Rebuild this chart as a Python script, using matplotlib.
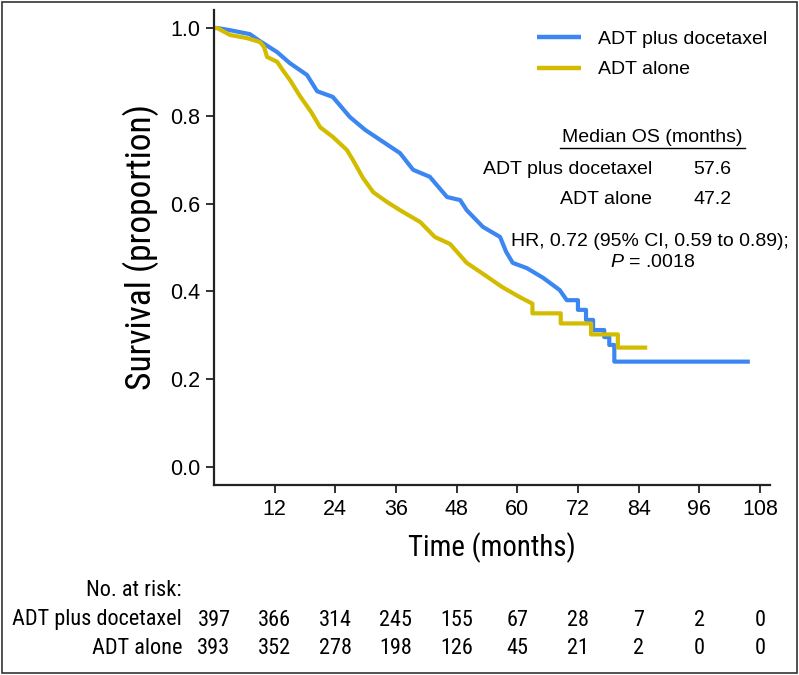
import numpy as np
import matplotlib.pyplot as plt
from matplotlib.patches import Rectangle
from matplotlib import font_manager as fm
import matplotlib.transforms as mtransforms

plt.rcParams['mathtext.fontset'] = 'custom'
plt.rcParams['mathtext.it'] = 'Liberation Sans:italic'
plt.rcParams['mathtext.rm'] = 'Liberation Sans'

# Kaplan-Meier curves (months, survival proportion)
months_doce = [0, 0.6, 3.2, 7.1, 9.1, 12.5, 15.0, 18.4, 20.4, 23.5, 26.9, 29.9, 33.8,
               36.8, 39.4, 42.7, 46.1, 48.7, 50.0, 53.2, 56.6, 57.8, 59.1, 61.9, 65.1,
               68.4, 69.8, 72.0, 72.0, 73.6, 73.6, 75.0, 75.0, 77.2, 77.2, 78.2, 78.2,
               79.2, 79.2, 105.6]
surv_doce = [1.0, 1.0, 0.995, 0.986, 0.970, 0.945, 0.920, 0.893, 0.856, 0.843, 0.797,
             0.768, 0.738, 0.715, 0.677, 0.661, 0.615, 0.608, 0.585, 0.547, 0.524, 0.490,
             0.465, 0.453, 0.431, 0.403, 0.380, 0.380, 0.358, 0.358, 0.335, 0.335, 0.312,
             0.312, 0.296, 0.296, 0.278, 0.278, 0.240, 0.240]

months_alone = [0, 0.6, 3.2, 6.5, 9.1, 9.9, 10.5, 12.5, 13.6, 15.0, 17.0, 19.2, 21.0,
                23.5, 26.3, 27.5, 29.5, 31.5, 34.2, 36.8, 40.8, 43.7, 46.7, 50.0, 53.6,
                57.0, 60.5, 63.0, 63.0, 68.6, 68.6, 74.6, 74.6, 79.9, 79.9, 85.3]
surv_alone = [1.0, 1.0, 0.984, 0.977, 0.968, 0.957, 0.934, 0.923, 0.904, 0.882, 0.845,
              0.809, 0.774, 0.752, 0.722, 0.699, 0.658, 0.626, 0.604, 0.585, 0.558, 0.524,
              0.508, 0.465, 0.437, 0.410, 0.387, 0.372, 0.350, 0.350, 0.327, 0.327, 0.302,
              0.302, 0.272, 0.272]

risk_times = [0, 12, 24, 36, 48, 60, 72, 84, 96, 108]
risk_doce = [397, 366, 314, 245, 155, 67, 28, 7, 2, 0]
risk_alone = [393, 352, 278, 198, 126, 45, 21, 2, 0, 0]

labels = ['ADT plus docetaxel', 'ADT alone']
medians = ['57.6', '47.2']
blue = '#3b86f0'
yellow = '#d3bc00'

regular = ['Liberation Sans', 'DejaVu Sans']


def find_narrow():
    # look for an installed condensed sans, else None
    good = []
    for f in fm.fontManager.ttflist:
        key = (f.name + ' ' + f.fname).lower()
        if not ('narrow' in key or 'condensed' in key or f.stretch in ('condensed', 'semi-condensed')):
            continue
        if f.style != 'normal' or f.weight not in (400, 'normal', 'regular'):
            continue
        if 'mono' in key or 'serif' in key and 'sans' not in key:
            continue
        rank = 0 if 'liberation' in key else 1 if 'roboto' in key else 2 if 'noto' in key else 3
        good.append((rank, f.fname))
    good.sort()
    return good[0][1] if good else None


narrow_file = find_narrow()


def narrow(size):
    if narrow_file:
        return fm.FontProperties(fname=narrow_file, size=size)
    return fm.FontProperties(family='Liberation Sans', size=size)


W, H = 799, 675
fig = plt.figure(figsize=(W / 100, H / 100), dpi=100)
ax = fig.add_axes([214 / W, 1 - 485 / H, 556 / W, 475 / H])

ax.plot(months_doce, surv_doce, color=blue, lw=3, label=labels[0])
ax.plot(months_alone, surv_alone, color=yellow, lw=3, label=labels[1])

ax.set_xlim(0, 110)
ax.set_ylim(-0.041, 1.041)
ax.set_xticks(risk_times[1:])
yt = np.arange(0, 1.01, 0.2)
ax.set_yticks(yt)
ax.set_yticklabels([f'{v:.1f}' for v in yt])
for s in ['top', 'right']:
    ax.spines[s].set_visible(False)
for s in ['left', 'bottom']:
    ax.spines[s].set_linewidth(1.6)
    ax.spines[s].set_color('#222222')
ax.tick_params(direction='out', length=6, width=1.3, colors='#222222', labelsize=15.5, pad=4)
for lab in ax.get_xticklabels() + ax.get_yticklabels():
    lab.set_family(regular)
    lab.set_color('black')

ylab = ax.set_ylabel('Survival (proportion)', fontproperties=narrow(24), labelpad=8)
xlab = ax.set_xlabel('Time (months)', fontproperties=narrow(24), labelpad=9)

leg = ax.legend(loc='upper left', bbox_to_anchor=(519 / W, 1 - 13 / H),
                bbox_transform=fig.transFigure, frameon=False, handlelength=2.3,
                handletextpad=0.85, labelspacing=0.65, prop={'family': regular, 'size': 14})
for line in leg.get_lines():
    line.set_linewidth(3.2)
    line.set_solid_capstyle('butt')


def px(x, y):
    return x / W, 1 - y / H


fig.text(*px(652, 137), 'Median OS (months)', ha='center', va='center',
         family=regular, fontsize=14)
fig.add_artist(plt.Line2D([560 / W, 745 / W], [1 - 148 / H] * 2, color='black', lw=1))
fig.text(*px(652, 170), labels[0], ha='right', va='center', family=regular, fontsize=14)
fig.text(*px(652, 200), labels[1], ha='right', va='center', family=regular, fontsize=14)
fig.text(*px(693, 170), medians[0], ha='left', va='center', family=regular, fontsize=14)
fig.text(*px(693, 200), medians[1], ha='left', va='center', family=regular, fontsize=14)
fig.text(*px(650, 242), 'HR, 0.72 (95% CI, 0.59 to 0.89);', ha='center', va='center',
         family=regular, fontsize=14)
fig.text(*px(653, 263), r'$\it{P}$ = .0018', ha='center', va='center',
         family=regular, fontsize=14)

# number at risk table
trans = mtransforms.blended_transform_factory(ax.transData, fig.transFigure)
risk_texts = []
head = fig.text(*px(182, 590), 'No. at risk:', ha='right', va='center', fontproperties=narrow(16))
rows = []
for row_y, name, counts in [(620, labels[0], risk_doce), (648, labels[1], risk_alone)]:
    rows.append(fig.text(*px(182, row_y), name, ha='right', va='center',
                         fontproperties=narrow(16)))
    for t, n in zip(risk_times, counts):
        risk_texts.append(ax.text(t, 1 - row_y / H, str(n), transform=trans, ha='center',
                                  va='center', fontproperties=narrow(16), clip_on=False))

fig.add_artist(Rectangle((2 / W, 2 / H), 795 / W, 671 / H, transform=fig.transFigure,
                         fill=False, edgecolor='#333333', lw=1.2))

# scale the condensed texts so their widths match the picture
fig.canvas.draw()
r = fig.canvas.get_renderer()
ylab.set_fontsize(ylab.get_fontsize() * 286 / ylab.get_window_extent(r).height)
xlab.set_fontsize(xlab.get_fontsize() * 168 / xlab.get_window_extent(r).width)
k = 170 / rows[0].get_window_extent(r).width
for t in [head] + rows + risk_texts:
    t.set_fontsize(t.get_fontsize() * k)

fig.savefig('out.png', dpi=100)
